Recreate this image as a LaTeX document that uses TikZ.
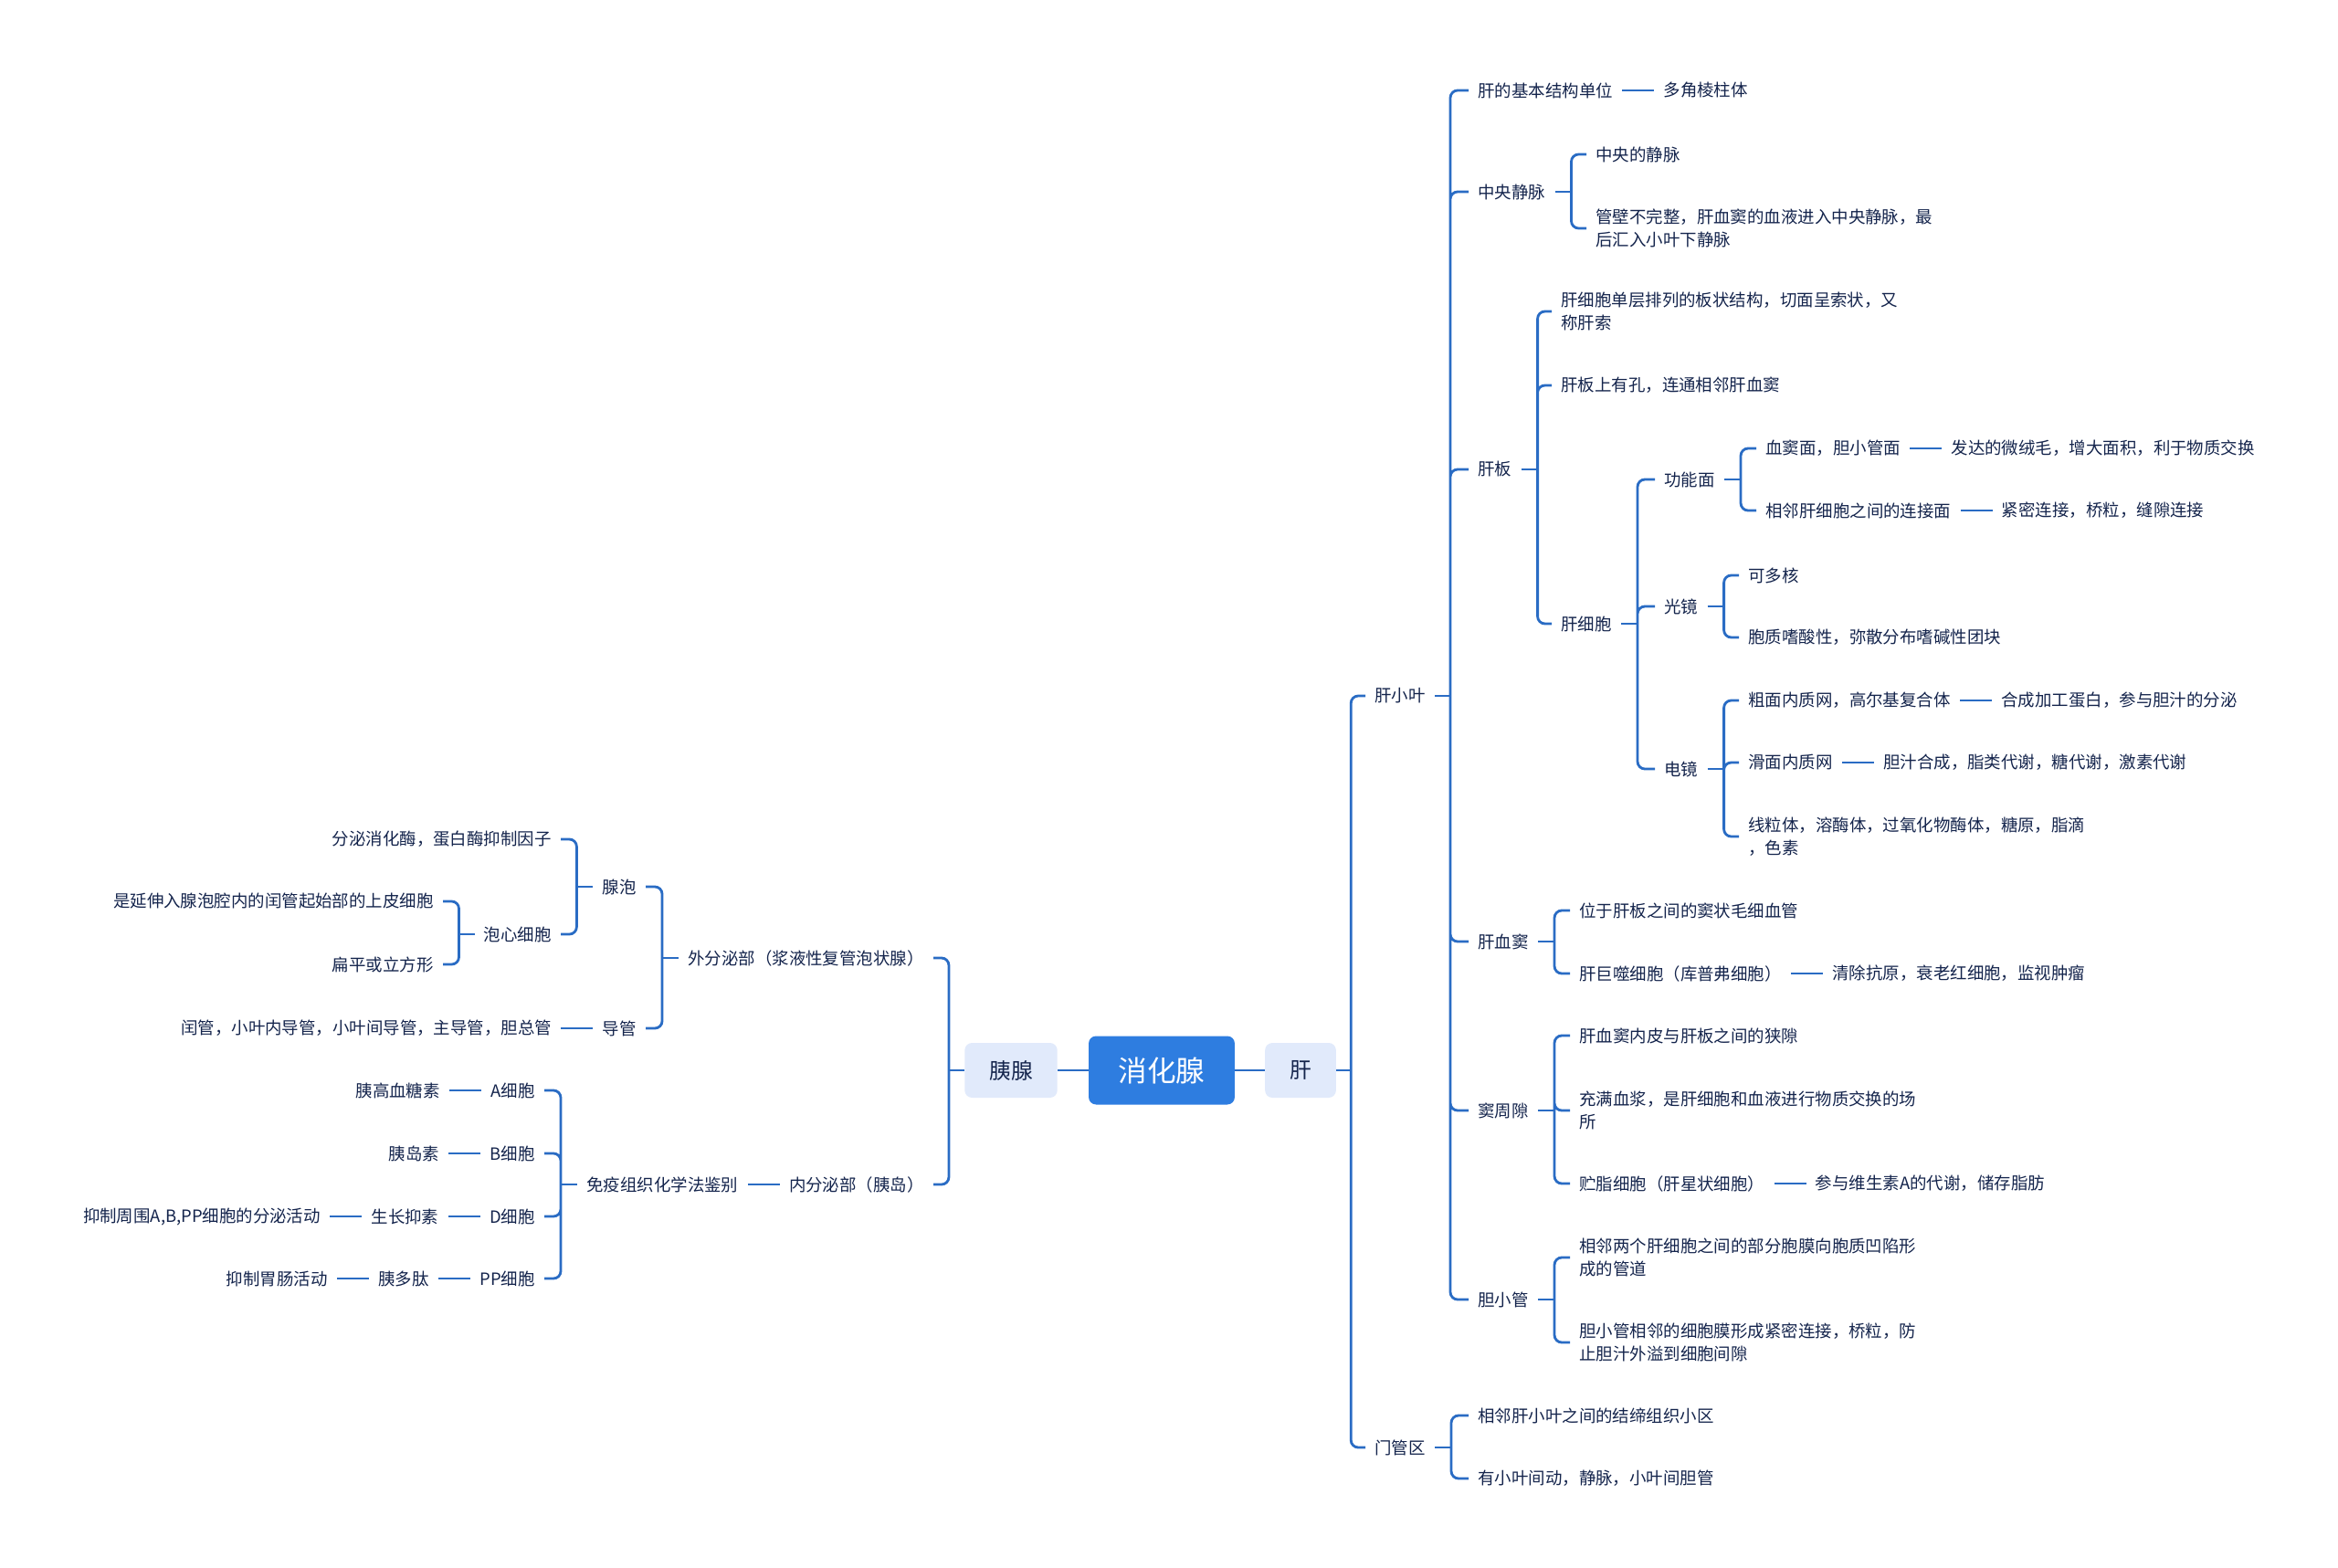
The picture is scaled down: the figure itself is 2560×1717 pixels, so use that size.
\documentclass[tikz,border=0pt]{standalone}
\usepackage{fontspec}
\setmainfont{Noto Sans CJK SC}
\usepackage{xcolor}
\usetikzlibrary{positioning,calc}
\definecolor{lineblue}{RGB}{42,108,196}
\definecolor{ink}{RGB}{20,36,76}
\definecolor{subfill}{RGB}{225,234,251}
\definecolor{mainblue}{RGB}{46,125,224}

\begin{document}
\begin{tikzpicture}[
    x=0.02cm, y=-0.02cm,
    node distance=0.7cm,
    mainbox/.style={rectangle, rounded corners=0.16cm, fill=mainblue, text=white, font=\fontsize{18}{20}\selectfont, inner xsep=0.65cm, minimum height=1.5cm},
    subbox/.style={rectangle, rounded corners=0.16cm, fill=subfill, text=ink, font=\fontsize{13.5}{15}\selectfont, inner xsep=0.54cm, minimum height=1.2cm},
    txt/.style={text=ink, font=\fontsize{10.5}{14}\selectfont, inner xsep=0.2cm, inner ysep=0.06cm, align=left},
    conn/.style={draw=lineblue, line width=1.6pt},
    fork/.style={conn, rounded corners=0.16cm}
]
\useasboundingbox (0,0) rectangle (2560,1717);

% centre
\node[mainbox] (main) at (1272,1172) {消化腺};
\node[subbox] (pan) at (1107,1172) {胰腺};
\node[subbox] (liver) at (1424,1172) {肝};
\draw[conn] (pan) -- (main);
\draw[conn] (main) -- (liver);

% liver
\node[txt, anchor=west] (lob) at (1495,762) {肝小叶};
\node[txt, anchor=west] (portal) at (1495,1585) {门管区};
\coordinate (liverj) at ($(liver.east)+(16,0)$);
\draw[conn] (liver) -- (liverj);
\draw[fork] (liverj) |- (lob.west) (liverj) |- (portal.west);

% lobule
\node[txt, anchor=west] (unit) at (1608,99) {肝的基本结构单位};
\node[txt, right=of unit] (prism) {多角棱柱体};
\node[txt, anchor=west] (cv) at (1608,210) {中央静脉};
\node[txt, anchor=west] (plate) at (1608,514) {肝板};
\node[txt, anchor=west] (sin) at (1608,1031) {肝血窦};
\node[txt, anchor=west] (ps) at (1608,1216) {窦周隙};
\node[txt, anchor=west] (bc) at (1608,1423) {胆小管};
\coordinate (lobj) at ($(lob.east)+(17,0)$);
\draw[conn] (lob) -- (lobj);
\draw[fork] (lobj) |- (unit.west) (lobj) |- (cv.west) (lobj) |- (plate.west)
    (lobj) |- (sin.west) (lobj) |- (ps.west) (lobj) |- (bc.west);
\draw[conn] (unit) -- (prism);

% central vein
\node[txt, anchor=west] (cv1) at (1737,169) {中央的静脉};
\node[txt, anchor=west] (cv2) at (1737,250) {管壁不完整，肝血窦的血液进入中央静脉，最\\后汇入小叶下静脉};
\coordinate (cvj) at ($(cv.east)+(18,0)$);
\draw[conn] (cv) -- (cvj);
\draw[fork] (cvj) |- (cv1.west) (cvj) |- (cv2.west);

% hepatic plate
\node[txt, anchor=west] (pl1) at (1699,341) {肝细胞单层排列的板状结构，切面呈索状，又\\称肝索};
\node[txt, anchor=west] (pl2) at (1699,422) {肝板上有孔，连通相邻肝血窦};
\node[txt, anchor=west] (hep) at (1699,683) {肝细胞};
\coordinate (platej) at ($(plate.east)+(18,0)$);
\draw[conn] (plate) -- (platej);
\draw[fork] (platej) |- (pl1.west) (platej) |- (pl2.west) (platej) |- (hep.west);

% hepatocyte
\node[txt, anchor=west] (func) at (1812,525) {功能面};
\node[txt, anchor=west] (lm) at (1812,664) {光镜};
\node[txt, anchor=west] (em) at (1812,842) {电镜};
\coordinate (hepj) at ($(hep.east)+(18,0)$);
\draw[conn] (hep) -- (hepj);
\draw[fork] (hepj) |- (func.west) (hepj) |- (lm.west) (hepj) |- (em.west);

\node[txt, anchor=west] (f1) at (1923,491) {血窦面，胆小管面};
\node[txt, right=of f1] (f1r) {发达的微绒毛，增大面积，利于物质交换};
\node[txt, anchor=west] (f2) at (1923,559) {相邻肝细胞之间的连接面};
\node[txt, right=of f2] (f2r) {紧密连接，桥粒，缝隙连接};
\coordinate (funcj) at ($(func.east)+(18,0)$);
\draw[conn] (func) -- (funcj);
\draw[fork] (funcj) |- (f1.west) (funcj) |- (f2.west);
\draw[conn] (f1) -- (f1r);
\draw[conn] (f2) -- (f2r);

\node[txt, anchor=west] (lm1) at (1904,630) {可多核};
\node[txt, anchor=west] (lm2) at (1904,698) {胞质嗜酸性，弥散分布嗜碱性团块};
\coordinate (lmj) at ($(lm.east)+(18,0)$);
\draw[conn] (lm) -- (lmj);
\draw[fork] (lmj) |- (lm1.west) (lmj) |- (lm2.west);

\node[txt, anchor=west] (em1) at (1904,767) {粗面内质网，高尔基复合体};
\node[txt, right=of em1] (em1r) {合成加工蛋白，参与胆汁的分泌};
\node[txt, anchor=west] (em2) at (1904,835) {滑面内质网};
\node[txt, right=of em2] (em2r) {胆汁合成，脂类代谢，糖代谢，激素代谢};
\node[txt, anchor=west] (em3) at (1904,916) {线粒体，溶酶体，过氧化物酶体，糖原，脂滴\\，色素};
\coordinate (emj) at ($(em.east)+(18,0)$);
\draw[conn] (em) -- (emj);
\draw[fork] (emj) |- (em1.west) (emj) |- (em2.west) (emj) |- (em3.west);
\draw[conn] (em1) -- (em1r);
\draw[conn] (em2) -- (em2r);

% sinusoid
\node[txt, anchor=west] (sin1) at (1719,997) {位于肝板之间的窦状毛细血管};
\node[txt, anchor=west] (sin2) at (1719,1066) {肝巨噬细胞（库普弗细胞）};
\node[txt, right=of sin2] (sin2r) {清除抗原，衰老红细胞，监视肿瘤};
\coordinate (sinj) at ($(sin.east)+(18,0)$);
\draw[conn] (sin) -- (sinj);
\draw[fork] (sinj) |- (sin1.west) (sinj) |- (sin2.west);
\draw[conn] (sin2) -- (sin2r);

% perisinusoidal space
\node[txt, anchor=west] (ps1) at (1719,1134) {肝血窦内皮与肝板之间的狭隙};
\node[txt, anchor=west] (ps2) at (1719,1216) {充满血浆，是肝细胞和血液进行物质交换的场\\所};
\node[txt, anchor=west] (ps3) at (1719,1296) {贮脂细胞（肝星状细胞）};
\node[txt, right=of ps3] (ps3r) {参与维生素A的代谢，储存脂肪};
\coordinate (psj) at ($(ps.east)+(18,0)$);
\draw[conn] (ps) -- (psj);
\draw[fork] (psj) |- (ps1.west) (psj) |- (ps2.west) (psj) |- (ps3.west);
\draw[conn] (ps3) -- (ps3r);

% bile canaliculus
\node[txt, anchor=west] (bc1) at (1719,1377) {相邻两个肝细胞之间的部分胞膜向胞质凹陷形\\成的管道};
\node[txt, anchor=west] (bc2) at (1719,1470) {胆小管相邻的细胞膜形成紧密连接，桥粒，防\\止胆汁外溢到细胞间隙};
\coordinate (bcj) at ($(bc.east)+(18,0)$);
\draw[conn] (bc) -- (bcj);
\draw[fork] (bcj) |- (bc1.west) (bcj) |- (bc2.west);

% portal area
\node[txt, anchor=west] (pt1) at (1608,1550) {相邻肝小叶之间的结缔组织小区};
\node[txt, anchor=west] (pt2) at (1608,1619) {有小叶间动，静脉，小叶间胆管};
\coordinate (portalj) at ($(portal.east)+(18,0)$);
\draw[conn] (portal) -- (portalj);
\draw[fork] (portalj) |- (pt1.west) (portalj) |- (pt2.west);

% pancreas
\node[txt, anchor=east] (exo) at (1022,1049) {外分泌部（浆液性复管泡状腺）};
\node[txt, anchor=east] (endo) at (1022,1297) {内分泌部（胰岛）};
\coordinate (panj) at ($(pan.west)+(-17,0)$);
\draw[conn] (pan) -- (panj);
\draw[fork] (panj) |- (exo.east) (panj) |- (endo.east);

% exocrine
\node[txt, anchor=east] (acin) at (707,971) {腺泡};
\node[txt, anchor=east] (duct) at (707,1126) {导管};
\node[txt, left=of duct] (ductl) {闰管，小叶内导管，小叶间导管，主导管，胆总管};
\coordinate (exoj) at ($(exo.west)+(-18,0)$);
\draw[conn] (exo) -- (exoj);
\draw[fork] (exoj) |- (acin.east) (exoj) |- (duct.east);
\draw[conn] (duct) -- (ductl);

\node[txt, anchor=east] (sec) at (614,919) {分泌消化酶，蛋白酶抑制因子};
\node[txt, anchor=east] (cent) at (614,1023) {泡心细胞};
\coordinate (acinj) at ($(acin.west)+(-18,0)$);
\draw[conn] (acin) -- (acinj);
\draw[fork] (acinj) |- (sec.east) (acinj) |- (cent.east);

\node[txt, anchor=east] (cent1) at (485,987) {是延伸入腺泡腔内的闰管起始部的上皮细胞};
\node[txt, anchor=east] (cent2) at (485,1056) {扁平或立方形};
\coordinate (centj) at ($(cent.west)+(-17,0)$);
\draw[conn] (cent) -- (centj);
\draw[fork] (centj) |- (cent1.east) (centj) |- (cent2.east);

% endocrine
\node[txt, left=of endo] (imm) {免疫组织化学法鉴别};
\draw[conn] (endo) -- (imm);
\node[txt, anchor=east] (ca) at (596,1194) {A细胞};
\node[txt, left=of ca] (ca1) {胰高血糖素};
\node[txt, anchor=east] (cb) at (596,1263) {B细胞};
\node[txt, left=of cb] (cb1) {胰岛素};
\node[txt, anchor=east] (cd) at (596,1332) {D细胞};
\node[txt, left=of cd] (cd1) {生长抑素};
\node[txt, left=of cd1] (cd2) {抑制周围A,B,PP细胞的分泌活动};
\node[txt, anchor=east] (cpp) at (596,1400) {PP细胞};
\node[txt, left=of cpp] (cpp1) {胰多肽};
\node[txt, left=of cpp1] (cpp2) {抑制胃肠活动};
\coordinate (immj) at ($(imm.west)+(-18,0)$);
\draw[conn] (imm) -- (immj);
\draw[fork] (immj) |- (ca.east) (immj) |- (cb.east) (immj) |- (cd.east) (immj) |- (cpp.east);
\draw[conn] (ca) -- (ca1);
\draw[conn] (cb) -- (cb1);
\draw[conn] (cd) -- (cd1);
\draw[conn] (cd1) -- (cd2);
\draw[conn] (cpp) -- (cpp1);
\draw[conn] (cpp1) -- (cpp2);
\end{tikzpicture}
\end{document}
